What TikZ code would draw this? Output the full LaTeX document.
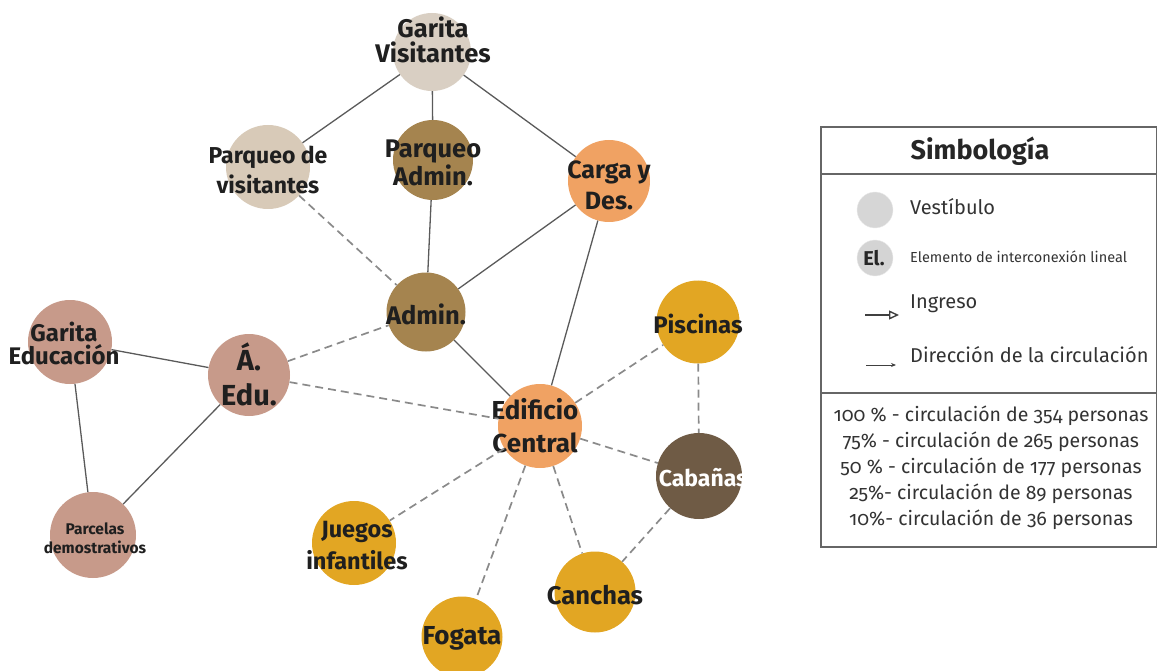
\documentclass[tikz,border=0pt]{standalone}
\usepackage{fontspec}
\setmainfont{Fira Sans}[Numbers=OldStyle]
\usetikzlibrary{arrows.meta}
\definecolor{cVest}{HTML}{D9CFC3}
\definecolor{cPV}{HTML}{D8CAB8}
\definecolor{cAdm}{HTML}{A5844F}
\definecolor{cOra}{HTML}{F0A263}
\definecolor{cEdu}{HTML}{C79A8A}
\definecolor{cGold}{HTML}{E2A623}
\definecolor{cCab}{HTML}{6F5B45}
\definecolor{cLine}{HTML}{5A5A5A}
\definecolor{cDash}{HTML}{8A8A8A}
\newcommand{\fs}[2]{\bfseries\fontsize{#1}{#2}\selectfont}
\tikzset{
  bub/.style={circle, minimum size=#1, inner sep=0pt},
  bub/.default=82pt,
  btxt/.style={inner sep=0pt, align=center, text=black!88},
  sol/.style={draw=cLine, line width=1.3pt},
  dsh/.style={draw=cDash, line width=1.7pt, dash pattern=on 8pt off 5pt},
  legtxt/.style={anchor=base west, inner sep=0pt, text=black!80},
}
\begin{document}
\begin{tikzpicture}[x=1pt,y=-1pt]
\useasboundingbox (0,0) rectangle (1157,671);
% circles
\node[bub=78pt, fill=cVest] (gv) at (432,52) {};
\node[bub=84pt, fill=cPV] (pv) at (268,167) {};
\node[bub=80pt, fill=cAdm] (pa) at (433,160) {};
\node[bub=82pt, fill=cOra] (cd) at (609,181) {};
\node[bub=79pt, fill=cAdm] (ad) at (426,312) {};
\node[bub=82pt, fill=cEdu] (ae) at (249,375) {};
\node[bub=84pt, fill=cEdu] (ge) at (70,342) {};
\node[bub=86pt, fill=cEdu] (pd) at (93,535) {};
\node[bub=83pt, fill=cGold] (pi) at (698,322) {};
\node[bub=84pt, fill=cOra] (ec) at (540,426) {};
\node[bub=86pt, fill=cCab] (cb) at (699,476) {};
\node[bub=84pt, fill=cGold] (ji) at (354,543) {};
\node[bub=81pt, fill=cGold] (ca) at (595,592) {};
\node[bub=81pt, fill=cGold] (fo) at (462,637) {};
% texts
\node[btxt, font=\fs{25.5}{25}] (gvt) at (433,40) {Garita\\Visitantes};
\node[btxt, font=\fs{23}{30}] (pvt) at (268,170) {Parqueo de\\visitantes};
\node[btxt, font=\fs{25.5}{25}] (pat) at (433,163) {Parqueo\\Admin.};
\node[btxt, font=\fs{25}{31}] (cdt) at (609,185) {Carga y\\Des.};
\node[btxt, font=\fs{25.5}{25}] (adt) at (426,314) {Admin.};
\node[btxt, font=\fs{29}{35}] (aet) at (249,374) {Á.\\Edu.};
\node[btxt, font=\fs{24}{23}] (get) at (64,343) {Garita\\Educación};
\node[btxt, font=\fs{15.5}{19}] (pdt) at (95,538) {Parcelas\\demostrativos};
\node[btxt, font=\fs{24}{25}] (pit) at (698,324) {Piscinas};
\node[btxt, font=\fs{26}{33}] (ect) at (535,426) {Edificio\\Central};
\node[btxt, font=\fs{23}{22}, text=white] (cbt) at (703,478) {Cabañas};
\node[btxt, font=\fs{23.5}{32}] (jit) at (357,546) {Juegos\\infantiles};
\node[btxt, font=\fs{25.5}{25}] (cat) at (595,595) {Canchas};
\node[btxt, font=\fs{26}{25}] (fot) at (462,638) {Fogata};
% solid edges
\draw[sol] (gv) -- (pv);
\draw[sol] (gv) -- (pa);
\draw[sol] (gv) -- (cd);
\draw[sol] (pa) -- (ad);
\draw[sol] (cd) -- (ad);
\draw[sol] (cd) -- (ec);
\draw[sol] (ad) -- (ec);
\draw[sol] (ge) -- (ae);
\draw[sol] (ge) -- (pd);
\draw[sol] (ae) -- (pd);
% dashed edges
\draw[dsh] (pv) -- (ad);
\draw[dsh] (ae) -- (ad);
\draw[dsh] (ae) -- (ec);
\draw[dsh] (ec) -- (pi);
\draw[dsh] (ec) -- (cb);
\draw[dsh] (ec) -- (ji);
\draw[dsh] (ec) -- (fo);
\draw[dsh] (ec) -- (ca);
\draw[dsh] (pi) -- (cb);
\draw[dsh] (cb) -- (ca);
% legend
\draw[draw=black!60, line width=1.2pt] (821,127) rectangle (1156.4,547);
\draw[draw=black!60, line width=1.2pt] (821,174) -- (1156.4,174);
\draw[draw=black!60, line width=1.2pt] (821,393) -- (1156.4,393);
\node[inner sep=0pt, anchor=base, font=\fs{27}{30}, text=black!85] (lt) at (980,160) {Simbología};
\node[circle, minimum size=36pt, inner sep=0pt, fill=black!16, draw=black!8] (lv) at (875,210) {};
\node[legtxt, font=\fontsize{20}{24}\selectfont] (lvt) at (910,215) {Vestíbulo};
\node[circle, minimum size=36pt, inner sep=0pt, fill=black!17, draw=black!8] (le) at (875,258) {};
\node[inner sep=0pt, font=\fs{20}{20}, text=black!85] (let0) at (874,258) {El.};
\node[legtxt, font=\fontsize{14.5}{16}\selectfont] (let) at (910,262) {Elemento de interconexión lineal};
\coordinate (ia) at (865,315);
\coordinate (ib) at (899,315);
\draw[draw=black!75, line width=1.4pt, -{Triangle[open, length=10pt, width=9pt, line width=1.4pt]}] (ia) -- (ib);
\node[legtxt, font=\fontsize{20}{24}\selectfont] (lit) at (910,308) {Ingreso};
\coordinate (da) at (866,365);
\coordinate (db) at (896,365);
\draw[draw=black!75, line width=0.9pt, -{Stealth[length=5pt, width=4pt]}] (da) -- (db);
\node[legtxt, font=\fontsize{20}{24}\selectfont] (ldt) at (910,362) {Dirección de la circulación};
\node[inner sep=0pt, align=center, anchor=north, font=\fontsize{19.5}{25.8}\selectfont, text=black!80] (lp) at (991,406)
 {100 \% - circulación de 354 personas\\75\% - circulación de 265 personas\\50 \% - circulación de 177 personas\\25\%- circulación de 89 personas\\10\%- circulación de 36 personas};
\end{tikzpicture}
\end{document}
